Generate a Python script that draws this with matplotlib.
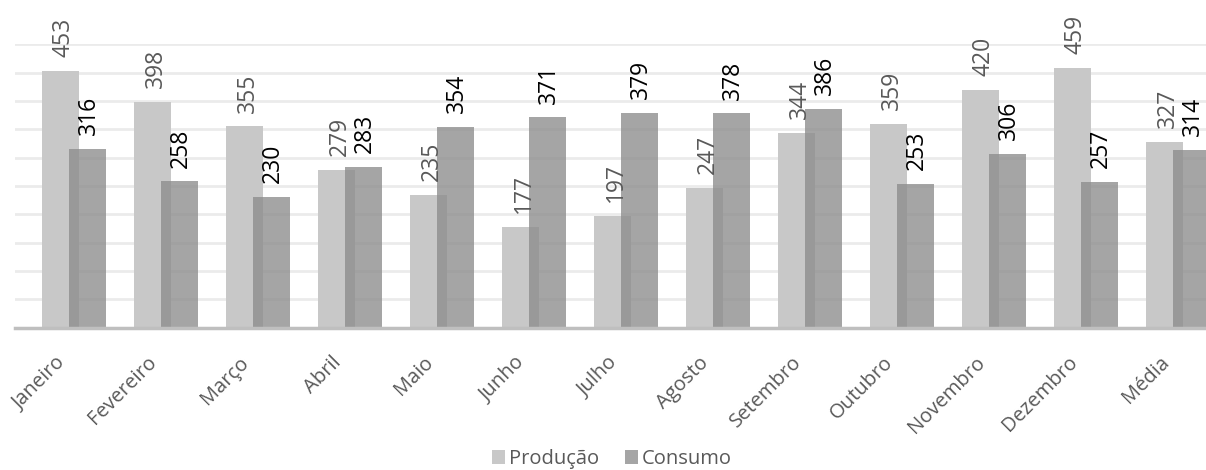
import numpy as np
import matplotlib.pyplot as plt
from matplotlib.transforms import ScaledTranslation

meses = ['Janeiro', 'Fevereiro', 'Março', 'Abril', 'Maio', 'Junho', 'Julho',
         'Agosto', 'Setembro', 'Outubro', 'Novembro', 'Dezembro', 'Média']
producao = [453, 398, 355, 279, 235, 177, 197, 247, 344, 359, 420, 459, 327]
consumo = [316, 258, 230, 283, 354, 371, 379, 378, 386, 253, 306, 257, 314]

plt.rcParams['font.family'] = ['Open Sans', 'DejaVu Sans']

fig = plt.figure(figsize=(12.06, 4.70), dpi=100)
ax = fig.add_axes([15 / 1206, 142.3 / 470, 1 - 15 / 1206, 283.4 / 470])

x = np.arange(len(meses))
w = 0.4
off = 0.145
b1 = ax.bar(x - off, producao, w, color='#c8c8c8', zorder=2, label='Produção')
b2 = ax.bar(x + off, consumo, w, color='#8c8c8c', alpha=0.78, zorder=3, label='Consumo')

for rect, v in zip(b1, producao):
    ax.annotate(str(v), (rect.get_x() + rect.get_width() / 2, v), xytext=(2, 10),
                textcoords='offset points', rotation=90, ha='center', va='bottom',
                fontsize=16.5, color='#595959', annotation_clip=False)
for rect, v in zip(b2, consumo):
    ax.annotate(str(v), (rect.get_x() + rect.get_width() / 2, v), xytext=(1, 10),
                textcoords='offset points', rotation=90, ha='center', va='bottom',
                fontsize=16.5, color='#000000', annotation_clip=False)

ax.set_xlim(-0.643, (1206 - 74.2) / 92)
ax.set_ylim(0, 500)
ax.set_yticks(np.arange(50, 501, 50))
ax.yaxis.grid(True, color='#ebebeb', linewidth=2, zorder=0)
ax.tick_params(axis='y', left=False, labelleft=False)
ax.tick_params(axis='x', length=0, pad=23)
ax.set_xticks(x)
ax.set_xticklabels(meses, rotation=45, ha='right', va='center', rotation_mode='anchor',
                   fontsize=14.5, color='#595959')
shift = ScaledTranslation(-12 / 100, 0, fig.dpi_scale_trans)
for lab in ax.get_xticklabels():
    lab.set_transform(lab.get_transform() + shift)
for s in ['top', 'right', 'left']:
    ax.spines[s].set_visible(False)
ax.spines['bottom'].set_color('#bfbfbf')
ax.spines['bottom'].set_linewidth(2.5)
ax.spines['bottom'].set_zorder(4)

fig.legend(loc='center', bbox_to_anchor=(612 / 1206, 1 - 459 / 470), ncol=2, frameon=False,
           fontsize=14.5, labelcolor='#595959', handlelength=0.65, handleheight=0.65,
           handletextpad=0.2, columnspacing=1.25)

fig.savefig('out.png', dpi=100)
